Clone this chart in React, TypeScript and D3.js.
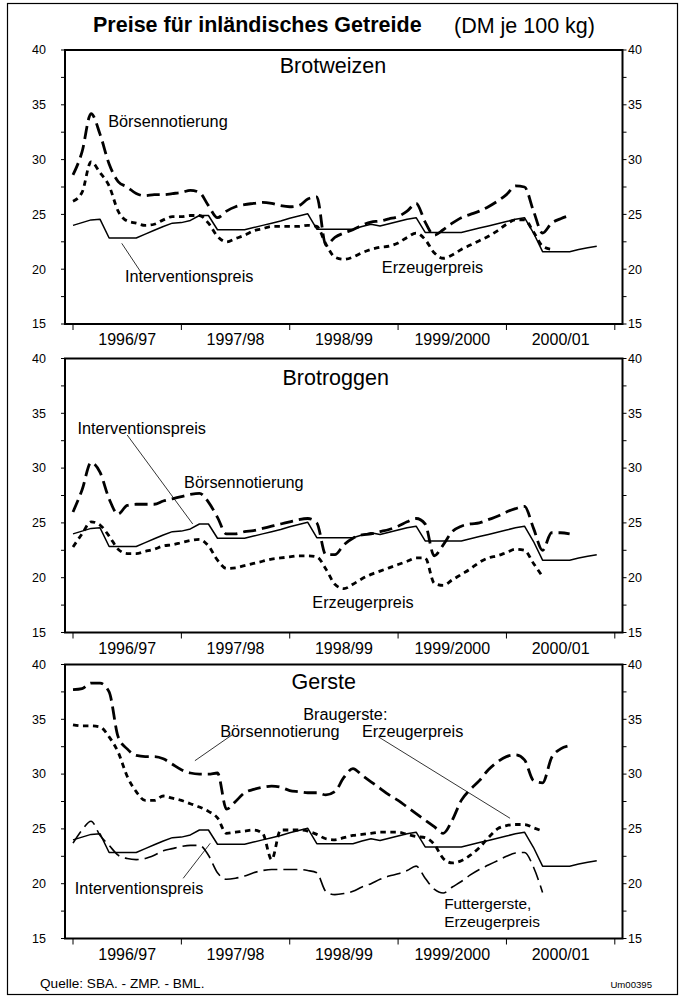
import React from 'react';
import * as d3 from 'd3';

// Monatswerte, Index 0 = Juli 1996
const seasons = ['1996/97', '1997/98', '1998/99', '1999/2000', '2000/01'];
const yLabelValues = [15, 20, 25, 30, 35, 40];

const interventionspreis = [
  24.0, 24.25, 24.5, 24.55, 22.85, 22.85, 22.85, 22.85, 23.2, 23.55, 23.9, 24.2,
  24.25, 24.45, 24.9, 24.9, 23.6, 23.6, 23.6, 23.6, 23.8, 24.0, 24.2, 24.4,
  24.65, 24.85, 25.05, 23.65, 23.65, 23.65, 23.65, 23.65, 23.9, 24.1, 23.95, 24.15,
  24.35, 24.55, 24.7, 23.35, 23.35, 23.35, 23.35, 23.35, 23.55, 23.75, 23.95, 24.15,
  24.35, 24.55, 24.7, 23.3, 21.6, 21.6, 21.6, 21.6, 21.8, 21.95, 22.1,
];

const weizenBoerse = [
  28.6, 30.7, 34.2, 32.3, 29.6, 28.0, 27.5, 26.9, 26.7, 26.8, 26.8, 26.9,
  27.0, 27.2, 27.0, 25.8, 24.7, 25.3, 25.7, 25.9, 26.0, 26.1, 26.0, 25.8,
  25.7, 25.8, 26.4, 26.6, 22.2, 22.9, 23.3, 23.6, 24.0, 24.3, 24.4, 24.6,
  24.8, 25.3, 26.0, 24.3, 23.1, 23.6, 24.2, 24.7, 25.0, 25.3, 25.7, 26.2,
  26.8, 27.6, 27.5, 25.3, 23.3, 24.2, 24.6, 24.9,
];
const weizenErzeuger = [
  26.2, 27.0, 29.8, 28.8, 27.6, 25.3, 24.4, 24.2, 24.0, 24.1, 24.5, 24.8,
  24.8, 24.9, 24.9, 24.2, 23.0, 22.5, 22.8, 23.1, 23.5, 23.7, 23.9, 23.9,
  23.9, 23.9, 24.0, 23.9, 22.3, 21.1, 20.9, 21.1, 21.5, 21.8, 22.0, 22.1,
  22.4, 22.9, 23.3, 22.7, 21.5, 21.0, 21.3, 21.8, 22.2, 22.6, 23.0, 23.5,
  24.1, 24.5, 24.5, 23.4, 22.1, 21.8,
];

const roggenBoerse = [
  26.0, 28.0, 30.5, 29.6, 27.2, 25.8, 26.6, 26.7, 26.7, 26.7, 27.0, 27.2,
  27.4, 27.6, 27.7, 26.9, 25.5, 24.0, 24.0, 24.2, 24.3, 24.5, 24.7, 24.9,
  25.1, 25.3, 25.4, 25.0, 22.1, 22.1, 23.0, 23.6, 23.9, 24.0, 24.2, 24.4,
  24.7, 25.1, 25.4, 24.9, 22.0, 23.0, 24.2, 24.7, 24.9, 25.0, 25.3, 25.6,
  26.0, 26.3, 26.5, 24.5, 22.5, 24.1, 24.1, 24.0,
];
const roggenErzeuger = [
  22.8, 24.0, 25.1, 24.8, 23.8, 22.6, 22.2, 22.2, 22.4, 22.6, 22.9, 23.0,
  23.2, 23.4, 23.5, 22.9, 21.6, 20.85, 20.9, 21.1, 21.3, 21.5, 21.7, 21.8,
  21.9, 22.0, 22.0, 21.9, 20.8, 19.4, 19.0, 19.4, 19.9, 20.3, 20.6, 20.9,
  21.2, 21.5, 21.8, 21.8, 19.5, 19.3, 19.8, 20.3, 20.8, 21.4, 21.8, 22.0,
  22.3, 22.6, 22.5, 21.3, 20.1,
];

const braugersteBoerse = [
  37.7, 37.8, 38.3, 38.3, 37.5, 33.4, 32.3, 31.7, 31.6, 31.6, 31.4, 30.9,
  30.4, 30.1, 30.0, 30.0, 30.1, 26.8, 27.5, 28.3, 28.6, 28.8, 28.9, 28.8,
  28.5, 28.4, 28.3, 28.3, 28.1, 28.4, 29.7, 30.5, 29.9, 29.3, 28.7, 28.1,
  27.6, 27.0, 26.4, 25.8, 25.2, 24.6, 25.8, 27.6, 28.6, 29.4, 30.4, 31.1,
  31.6, 31.75, 31.3, 29.4, 29.2, 31.5, 32.3, 32.6,
];
const braugersteErzeuger = [
  34.5, 34.4, 34.4, 34.3, 33.4, 32.0, 29.8, 28.4, 27.6, 27.6, 28.0, 27.8,
  27.6, 27.3, 27.0, 26.6, 26.0, 24.6, 24.7, 24.8, 24.9, 24.6, 22.2, 24.9,
  24.9, 24.9, 24.8, 24.5, 24.1, 24.0, 24.2, 24.4, 24.5, 24.6, 24.7, 24.7,
  24.7, 24.5, 24.3, 24.2, 23.6, 22.3, 21.9, 22.1, 22.6, 23.3, 24.2, 25.0,
  25.3, 25.4, 25.4, 25.1, 24.8,
];
const futtergersteErzeuger = [
  23.7, 24.9, 25.7, 24.4, 23.5, 22.6, 22.3, 22.2, 22.3, 22.6, 23.0, 23.2,
  23.4, 23.5, 23.5, 22.6, 21.0, 20.4, 20.5, 20.7, 21.0, 21.2, 21.3, 21.3,
  21.3, 21.3, 21.2, 21.0, 19.3, 19.0, 19.1, 19.3, 19.7, 20.0, 20.4, 20.7,
  20.9, 21.2, 21.6, 20.5, 19.5, 19.15, 19.7, 20.2, 20.8, 21.3, 21.7, 22.1,
  22.5, 22.8, 22.85, 21.5, 19.2,
];

const FONT = '"Liberation Sans", Arial, Helvetica, sans-serif';
const W = 680;
const H = 997;
const frameLeft = 65;
const frameRight = 622.5;
const panelH = 274;
const panelTops = [50, 358.5, 664.5];

const x = d3.scaleLinear().domain([0, 60]).range([73, 614.8]);

const styles = {
  intervention: { strokeWidth: 1.5, dash: null },
  boerse: { strokeWidth: 2.8, dash: '13,6' },
  erzeuger: { strokeWidth: 2.8, dash: '5.5,4.5' },
  futter: { strokeWidth: 1.6, dash: '14,6' },
};

// Beschriftungen in Datenkoordinaten (Monat, DM); mehrzeilige als Liste
const panels = [
  {
    title: 'Brotweizen', titlePos: [22.9, 37.9],
    series: [
      { data: interventionspreis, style: 'intervention' },
      { data: weizenBoerse, style: 'boerse' },
      { data: weizenErzeuger, style: 'erzeuger' },
    ],
    labels: [
      { text: ['Börsennotierung'], at: [3.9, 32.95] },
      { text: ['Interventionspreis'], at: [5.75, 18.83] },
      { text: ['Erzeugerpreis'], at: [34.2, 19.63] },
    ],
    leaders: [[[5.4, 22.36], [7.6, 19.63]]],
  },
  {
    title: 'Brotroggen', titlePos: [23.2, 37.58],
    series: [
      { data: interventionspreis, style: 'intervention' },
      { data: roggenBoerse, style: 'boerse' },
      { data: roggenErzeuger, style: 'erzeuger' },
    ],
    labels: [
      { text: ['Interventionspreis'], at: [0.5, 33.08] },
      { text: ['Börsennotierung'], at: [12.3, 28.21] },
      { text: ['Erzeugerpreis'], at: [26.5, 17.2] },
    ],
    leaders: [[[6.0, 33.02], [13.26, 24.9]]],
  },
  {
    title: 'Gerste', titlePos: [24.2, 37.74],
    series: [
      { data: interventionspreis, style: 'intervention' },
      { data: braugersteBoerse, style: 'boerse' },
      { data: braugersteErzeuger, style: 'erzeuger' },
      { data: futtergersteErzeuger, style: 'futter' },
    ],
    labels: [
      { text: ['Braugerste:'], at: [25.5, 34.94] },
      { text: ['Erzeugerpreis'], at: [32.0, 33.41] },
      { text: ['Börsennotierung'], at: [16.3, 33.36] },
      { text: ['Interventionspreis'], at: [0.2, 19.05] },
      { text: ['Futtergerste,', 'Erzeugerpreis'], at: [41.1, 17.7], size: 15.4 },
    ],
    leaders: [
      [[33.8, 33.41], [48.4, 25.97]],
      [[17.6, 33.57], [13.5, 31.22]],
      [[12.2, 20.49], [15.2, 23.69]],
    ],
  },
];

function Panel({ top, panel }) {
  const y = d3.scaleLinear().domain([15, 40]).range([top + panelH, top]);
  const bottom = top + panelH;
  const yTicks = d3.range(15, 40.01, 2.5);

  return (
    <g>
      {/* Reihen */}
      {panel.series.map((s, i) => {
        const st = styles[s.style];
        const line = d3.line<number>()
          .x((d, j) => x(j))
          .y(d => y(d))
          .curve(s.style === 'intervention' ? d3.curveLinear : d3.curveMonotoneX);
        return (
          <path key={i} d={line(s.data) || ''} fill='none' stroke='#000'
            strokeWidth={st.strokeWidth} strokeDasharray={st.dash || undefined}
            strokeLinejoin='round' />
        );
      })}

      {/* Rahmen */}
      <rect x={frameLeft} y={top} width={frameRight - frameLeft} height={panelH}
        fill='none' stroke='#000' strokeWidth={2} />

      {/* y-Achsen links und rechts */}
      {yTicks.map(t => (
        <g key={t}>
          <line x1={frameLeft - 4} x2={frameLeft} y1={y(t)} y2={y(t)} stroke='#000' strokeWidth={1} />
          <line x1={frameRight} x2={frameRight + 4} y1={y(t)} y2={y(t)} stroke='#000' strokeWidth={1} />
        </g>
      ))}
      {yLabelValues.map(t => (
        <g key={'l' + t} fontSize={12.5} fontFamily={FONT}>
          <text x={46} y={y(t)} dy='0.35em' textAnchor='end'>{t}</text>
          <text x={628} y={y(t)} dy='0.35em'>{t}</text>
        </g>
      ))}

      {/* x-Achse */}
      {d3.range(0, 61, 12).map(m => (
        <line key={m} x1={x(m)} x2={x(m)} y1={bottom} y2={bottom + 6} stroke='#000' strokeWidth={1} />
      ))}
      {seasons.map((s, i) => (
        <text key={s} x={x(i * 12 + 6)} y={bottom + 21} textAnchor='middle'
          fontSize={16} fontFamily={FONT}>{s}</text>
      ))}

      {/* Beschriftungen */}
      <text x={x(panel.titlePos[0])} y={y(panel.titlePos[1])} fontSize={21.5} fontFamily={FONT}>
        {panel.title}
      </text>
      {panel.labels.map((l, i) => (
        <text key={i} x={x(l.at[0])} y={y(l.at[1])} fontSize={l.size || 16.3} fontFamily={FONT}>
          {l.text.map((t, k) => (
            <tspan key={k} x={x(l.at[0])} dy={k === 0 ? 0 : 17.8}>{t}</tspan>
          ))}
        </text>
      ))}
      {panel.leaders.map((l, i) => (
        <line key={i} x1={x(l[0][0])} y1={y(l[0][1])} x2={x(l[1][0])} y2={y(l[1][1])}
          stroke='#000' strokeWidth={0.8} />
      ))}
    </g>
  );
}

export default function App() {
  return (
    <div style={{ position: 'absolute', left: 0, top: 0 }}>
      <svg width={W} height={H} viewBox={`0 0 ${W} ${H}`} style={{ display: 'block', background: '#fff' }}>
        <rect x={0} y={0} width={W} height={H} fill='#fff' />
        <rect x={7.5} y={3.5} width={670} height={991} fill='none' stroke='#000' strokeWidth={1.2} />

        <text x={93} y={32} fontSize={21.5} fontWeight='bold' fontFamily={FONT}>
          Preise für inländisches Getreide
        </text>
        <text x={454} y={33} fontSize={21.5} fontFamily={FONT}>(DM je 100 kg)</text>

        {panels.map((p, i) => (
          <Panel key={p.title} top={panelTops[i]} panel={p} />
        ))}

        <text x={40} y={988} fontSize={13.6} fontFamily={FONT}>Quelle: SBA. - ZMP. - BML.</text>
        <text x={652} y={988} fontSize={9.6} fontFamily={FONT} textAnchor='end'>Um00395</text>
      </svg>
    </div>
  );
}
